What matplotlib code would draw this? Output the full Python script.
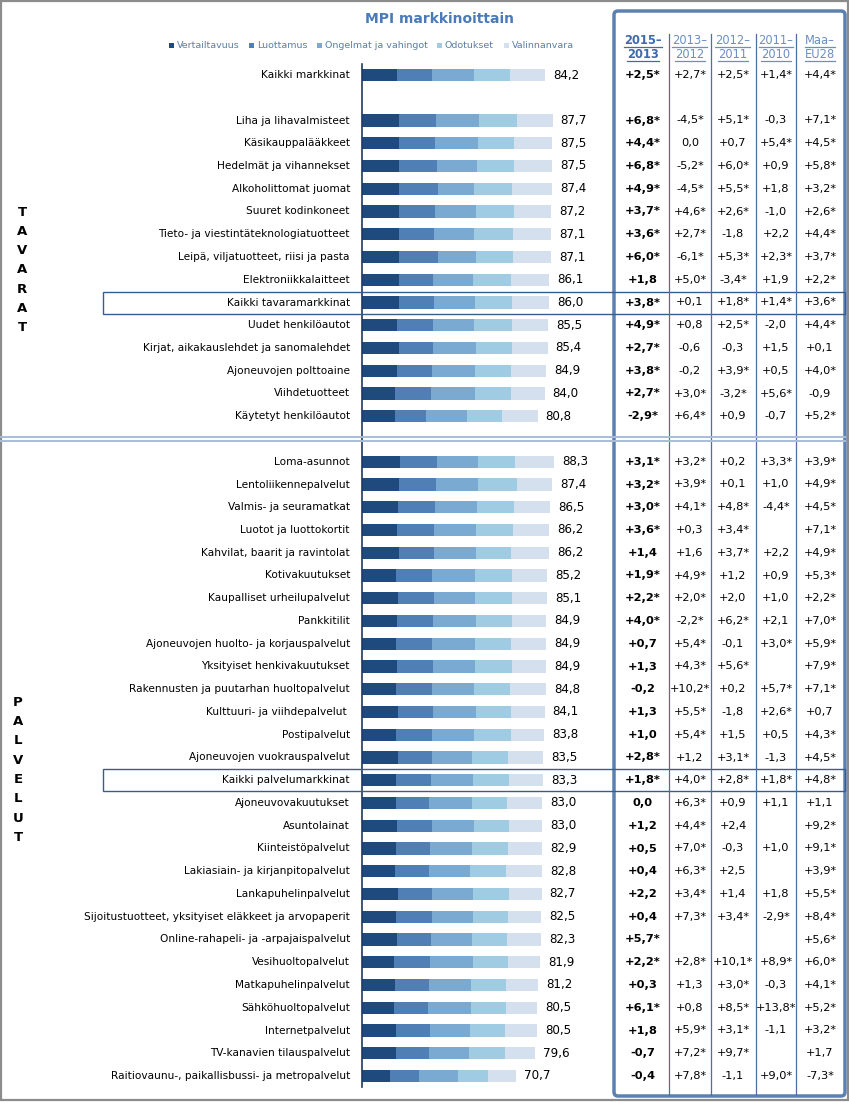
import matplotlib
matplotlib.use("Agg")
import matplotlib.pyplot as plt
from matplotlib.patches import Rectangle, FancyBboxPatch
import numpy as np

plt.rcParams['font.family'] = ['DejaVu Sans']

# ---------------- data ----------------
categories = [
    "Kaikki markkinat",
    "Liha ja lihavalmisteet", "Käsikauppalääkkeet", "Hedelmät ja vihannekset",
    "Alkoholittomat juomat", "Suuret kodinkoneet", "Tieto- ja viestintäteknologiatuotteet",
    "Leipä, viljatuotteet, riisi ja pasta", "Elektroniikkalaitteet", "Kaikki tavaramarkkinat",
    "Uudet henkilöautot", "Kirjat, aikakauslehdet ja sanomalehdet", "Ajoneuvojen polttoaine",
    "Viihdetuotteet", "Käytetyt henkilöautot",
    "Loma-asunnot", "Lentoliikennepalvelut", "Valmis- ja seuramatkat", "Luotot ja luottokortit",
    "Kahvilat, baarit ja ravintolat", "Kotivakuutukset", "Kaupalliset urheilupalvelut",
    "Pankkitilit", "Ajoneuvojen huolto- ja korjauspalvelut", "Yksityiset henkivakuutukset",
    "Rakennusten ja puutarhan huoltopalvelut", "Kulttuuri- ja viihdepalvelut ", "Postipalvelut",
    "Ajoneuvojen vuokrauspalvelut", "Kaikki palvelumarkkinat", "Ajoneuvovakuutukset",
    "Asuntolainat", "Kiinteistöpalvelut", "Lakiasiain- ja kirjanpitopalvelut",
    "Lankapuhelinpalvelut", "Sijoitustuotteet, yksityiset eläkkeet ja arvopaperit",
    "Online-rahapeli- ja -arpajaispalvelut", "Vesihuoltopalvelut", "Matkapuhelinpalvelut",
    "Sähköhuoltopalvelut", "Internetpalvelut", "TV-kanavien tilauspalvelut",
    "Raitiovaunu-, paikallisbussi- ja metropalvelut",
]
mpi = [84.2,
       87.7, 87.5, 87.5, 87.4, 87.2, 87.1, 87.1, 86.1, 86.0, 85.5, 85.4, 84.9, 84.0, 80.8,
       88.3, 87.4, 86.5, 86.2, 86.2, 85.2, 85.1, 84.9, 84.9, 84.9, 84.8, 84.1, 83.8, 83.5,
       83.3, 83.0, 83.0, 82.9, 82.8, 82.7, 82.5, 82.3, 81.9, 81.2, 80.5, 80.5, 79.6, 70.7]

vertailtavuus = [16.1,
    17.1, 16.8, 17.0, 17.1, 17.1, 16.8, 17.1, 16.8, 16.9, 16.3, 16.8, 16.2, 15.2, 15.3,
    17.7, 17.2, 16.7, 16.2, 17.1, 15.6, 16.7, 16.2, 15.6, 16.2, 15.6, 16.7, 15.6, 16.7,
    15.6, 15.6, 16.2, 15.6, 15.2, 16.7, 15.7, 16.3, 14.7, 15.2, 14.7, 15.6, 15.6, 12.9]
luottamus = [16.1,
    16.9, 16.8, 17.4, 17.8, 16.5, 16.3, 17.8, 15.9, 16.4, 16.5, 15.9, 16.0, 16.5, 14.2,
    17.0, 17.0, 17.0, 16.9, 16.0, 16.6, 16.5, 16.5, 16.7, 16.5, 16.7, 16.1, 16.7, 15.6,
    16.3, 15.3, 16.0, 15.8, 15.8, 15.6, 16.7, 15.6, 16.7, 15.8, 15.8, 15.8, 15.3, 13.3]
ongelmat = [19.3,
    19.7, 19.6, 18.3, 16.5, 18.8, 18.6, 17.4, 18.6, 18.9, 18.8, 19.7, 19.7, 20.2, 18.9,
    18.9, 19.3, 19.3, 19.2, 19.2, 19.7, 18.9, 19.7, 19.5, 19.1, 19.2, 19.6, 19.4, 18.3,
    19.3, 19.7, 19.3, 19.3, 18.8, 18.9, 18.5, 18.8, 19.8, 19.2, 19.7, 18.4, 18.4, 17.9]
odotukset = [16.6,
    17.5, 16.9, 17.4, 17.7, 17.4, 18.0, 17.4, 17.4, 16.9, 17.3, 16.4, 16.6, 16.5, 16.0,
    17.0, 17.9, 17.0, 17.4, 16.1, 17.0, 17.0, 16.5, 16.7, 17.1, 16.6, 16.3, 16.8, 16.5,
    16.6, 16.0, 16.0, 16.6, 16.6, 16.5, 16.1, 16.1, 16.1, 16.0, 16.0, 16.0, 16.5, 13.8]
valinnanvara = [16.1,
    16.5, 17.4, 17.4, 18.3, 17.4, 17.4, 17.4, 17.4, 16.9, 16.6, 16.6, 16.4, 15.6, 16.4,
    17.7, 16.0, 16.5, 16.5, 17.8, 16.3, 16.0, 16.0, 16.4, 16.0, 16.7, 15.4, 15.3, 16.4,
    15.5, 16.4, 15.5, 15.6, 16.4, 15.0, 15.5, 15.5, 14.6, 15.0, 14.3, 14.7, 13.8, 12.8]
component_names = ["Vertailtavuus", "Luottamus", "Ongelmat ja vahingot", "Odotukset", "Valinnanvara"]
component_colors = ["#1f4a7e", "#4f7fb4", "#7aa9d2", "#9fcce3", "#d5e0ee"]

col_headers = ["2015–\n2013", "2013–\n2012", "2012–\n2011", "2011–\n2010", "Maa–\nEU28"]
chg_2015_2013 = ["+2,5*",
    "+6,8*", "+4,4*", "+6,8*", "+4,9*", "+3,7*", "+3,6*", "+6,0*", "+1,8", "+3,8*", "+4,9*",
    "+2,7*", "+3,8*", "+2,7*", "-2,9*",
    "+3,1*", "+3,2*", "+3,0*", "+3,6*", "+1,4", "+1,9*", "+2,2*", "+4,0*", "+0,7", "+1,3",
    "-0,2", "+1,3", "+1,0", "+2,8*", "+1,8*", "0,0", "+1,2", "+0,5", "+0,4", "+2,2", "+0,4",
    "+5,7*", "+2,2*", "+0,3", "+6,1*", "+1,8", "-0,7", "-0,4"]
chg_2013_2012 = ["+2,7*",
    "-4,5*", "0,0", "-5,2*", "-4,5*", "+4,6*", "+2,7*", "-6,1*", "+5,0*", "+0,1", "+0,8",
    "-0,6", "-0,2", "+3,0*", "+6,4*",
    "+3,2*", "+3,9*", "+4,1*", "+0,3", "+1,6", "+4,9*", "+2,0*", "-2,2*", "+5,4*", "+4,3*",
    "+10,2*", "+5,5*", "+5,4*", "+1,2", "+4,0*", "+6,3*", "+4,4*", "+7,0*", "+6,3*", "+3,4*",
    "+7,3*", "", "+2,8*", "+1,3", "+0,8", "+5,9*", "+7,2*", "+7,8*"]
chg_2012_2011 = ["+2,5*",
    "+5,1*", "+0,7", "+6,0*", "+5,5*", "+2,6*", "-1,8", "+5,3*", "-3,4*", "+1,8*", "+2,5*",
    "-0,3", "+3,9*", "-3,2*", "+0,9",
    "+0,2", "+0,1", "+4,8*", "+3,4*", "+3,7*", "+1,2", "+2,0", "+6,2*", "-0,1", "+5,6*",
    "+0,2", "-1,8", "+1,5", "+3,1*", "+2,8*", "+0,9", "+2,4", "-0,3", "+2,5", "+1,4",
    "+3,4*", "", "+10,1*", "+3,0*", "+8,5*", "+3,1*", "+9,7*", "-1,1"]
chg_2011_2010 = ["+1,4*",
    "-0,3", "+5,4*", "+0,9", "+1,8", "-1,0", "+2,2", "+2,3*", "+1,9", "+1,4*", "-2,0",
    "+1,5", "+0,5", "+5,6*", "-0,7",
    "+3,3*", "+1,0", "-4,4*", "", "+2,2", "+0,9", "+1,0", "+2,1", "+3,0*", "",
    "+5,7*", "+2,6*", "+0,5", "-1,3", "+1,8*", "+1,1", "", "+1,0", "", "+1,8",
    "-2,9*", "", "+8,9*", "-0,3", "+13,8*", "-1,1", "", "+9,0*"]
chg_maa_eu28 = ["+4,4*",
    "+7,1*", "+4,5*", "+5,8*", "+3,2*", "+2,6*", "+4,4*", "+3,7*", "+2,2*", "+3,6*", "+4,4*",
    "+0,1", "+4,0*", "-0,9", "+5,2*",
    "+3,9*", "+4,9*", "+4,5*", "+7,1*", "+4,9*", "+5,3*", "+2,2*", "+7,0*", "+5,9*", "+7,9*",
    "+7,1*", "+0,7", "+4,3*", "+4,5*", "+4,8*", "+1,1", "+9,2*", "+9,1*", "+3,9*", "+5,5*",
    "+8,4*", "+5,6*", "+6,0*", "+4,1*", "+5,2*", "+3,2*", "+1,7", "-7,3*"]
highlight_rows = ["Kaikki tavaramarkkinat", "Kaikki palvelumarkkinat"]
section_goods = "TAVARAT"
section_services = "PALVELUT"

# ---------------- layout helpers ----------------
W, H = 849, 1103
X0, SX = 362.0, 2.173        # pixel of value 0, pixels per unit
Y0, SY = 75.0, 22.75         # pixel of slot 0, pixels per slot

n = len(categories)
slots = np.array([i + (1 if i >= 1 else 0) + (1 if i >= 15 else 0) for i in range(n)], float)

fig = plt.figure(figsize=(W / 100, H / 100), dpi=100)
fig.patch.set_facecolor("white")
ax = fig.add_axes([0, 0, 1, 1])
ax.set_xlim(-X0 / SX, (W - X0) / SX)
ax.set_ylim((H - Y0) / SY, -Y0 / SY)
ax.axis("off")

deco = fig.add_axes([0, 0, 1, 1], zorder=5)
deco.set_xlim(0, W)
deco.set_ylim(H, 0)
deco.axis("off")
deco.patch.set_alpha(0)

def ypx(s):
    return Y0 + s * SY

def xd(px):
    return (px - X0) / SX

# ---------------- bars ----------------
comps = [vertailtavuus, luottamus, ongelmat, odotukset, valinnanvara]
left = np.zeros(n)
for vals, col, name in zip(comps, component_colors, component_names):
    v = np.array(vals)
    ax.barh(slots, v, left=left, height=0.53, color=col, edgecolor="none", label=name)
    left += v

for s, cat, tot in zip(slots, categories, mpi):
    ax.text(xd(350), s, cat, ha="right", va="center", fontsize=7.6, color="black")
    ax.text(tot + 8 / SX, s, f"{tot:.1f}".replace(".", ","), ha="left", va="center",
            fontsize=8.6, color="black")

# axis line
ax.plot([0, 0], [(64 - Y0) / SY, (1087 - Y0) / SY], color="#1f3864", lw=1.2)

# ---------------- title & legend ----------------
deco.text(440, 19, "MPI markkinoittain", ha="center", va="center", fontsize=10,
          fontweight="bold", color="#4a7ab8")
leg_x = [172, 252, 320, 440, 507]
for lx, name, col in zip(leg_x, component_names, component_colors):
    deco.add_patch(Rectangle((lx - 2.5, 42.5), 5, 5, color=col, lw=0))
    deco.text(lx + 5, 45, name, ha="left", va="center", fontsize=6.8, color="#5a7fa8")

# ---------------- table panel ----------------
deco.add_patch(FancyBboxPatch((614, 11), 231, 1085, boxstyle="round,pad=0,rounding_size=4",
                              fc="none", ec="#5b80b2", lw=2.5))
for sx in [669, 711, 756, 796]:
    deco.plot([sx, sx], [34, 1095], color="#4f6f9f", lw=0.9)

col_x = [643, 690, 733, 776, 820]
head_texts = []
for i, (cx, hdr) in enumerate(zip(col_x, col_headers)):
    lines = hdr.split("\n")
    for j, ln in enumerate(lines):
        t = deco.text(cx, 40 + j * 14, ln, ha="center", va="center", fontsize=8.3,
                      fontweight="bold" if i == 0 else "normal",
                      color="#3d6bab" if i == 0 else "#6a8fc4")
        head_texts.append((t, 40 + j * 14, "#3d6bab" if i == 0 else "#6a8fc4"))

cols = [chg_2015_2013, chg_2013_2012, chg_2012_2011, chg_2011_2010, chg_maa_eu28]
for i, (cx, col) in enumerate(zip(col_x, cols)):
    for s, val in zip(slots, col):
        if val:
            deco.text(cx, ypx(s), val, ha="center", va="center", fontsize=8.2,
                      fontweight="bold" if i == 0 else "normal", color="black")

# highlighted rows
for s, cat in zip(slots, categories):
    if cat in highlight_rows:
        y = ypx(s)
        deco.add_patch(Rectangle((103, y - 11), 742 - 0, 22, fc="none", ec="#385d8a", lw=1.0))

# section separator (double line)
sep_y = (ypx(15) + ypx(17)) / 2
for dy in (-2.2, 2.2):
    deco.plot([0, 845], [sep_y + dy, sep_y + dy], color="#a9bdd8", lw=1.4)

# section letters
for k, ch in enumerate(section_goods):
    deco.text(22, 212 + k * 19.3, ch, ha="center", va="center", fontsize=9.5,
              fontweight="bold", color="black")
for k, ch in enumerate(section_services):
    deco.text(18, 702 + k * 19.4, ch, ha="center", va="center", fontsize=9.5,
              fontweight="bold", color="black")

# outer frame
deco.add_patch(Rectangle((0.5, 0.5), W - 1.5, H - 3.5, fc="none", ec="#8c8c8c", lw=1.6))

# underline headers
fig.canvas.draw()
r = fig.canvas.get_renderer()
inv = deco.transData.inverted()
for t, y, c in head_texts:
    bb = t.get_window_extent(r)
    (x1, _), (x2, _) = inv.transform([(bb.x0, bb.y0), (bb.x1, bb.y0)])
    deco.plot([x1, x2], [y + 6.5, y + 6.5], color=c, lw=0.9)

fig.savefig("out.png", dpi=100)
